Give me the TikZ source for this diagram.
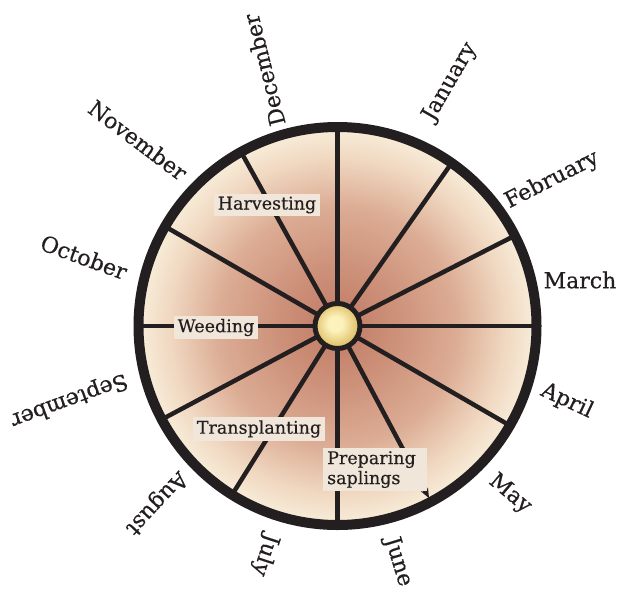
\documentclass[tikz,border=0pt]{standalone}
\usepackage{fontspec}
\setmainfont{DejaVu Serif}[BoldFont={DejaVu Serif}, BoldFeatures={FakeBold=0.4}]
\usetikzlibrary{arrows.meta}
\definecolor{ink}{RGB}{35,31,32}
\definecolor{boxfill}{RGB}{241,230,218}
\definecolor{cin}{RGB}{196,128,106}
\definecolor{ca}{RGB}{205,145,122}
\definecolor{cb}{RGB}{220,172,148}
\definecolor{cc}{RGB}{240,215,192}
\definecolor{cout}{RGB}{248,238,218}
\definecolor{hubin}{RGB}{252,242,188}
\definecolor{hubout}{RGB}{222,190,100}
\pgfdeclareradialshading{discshade}{\pgfpoint{0bp}{0bp}}{color(0bp)=(cin); color(2bp)=(cin); color(7.5bp)=(ca); color(15bp)=(cb); color(21bp)=(cc); color(25bp)=(cout); color(50bp)=(cout)}
\pgfdeclareradialshading{hubshade}{\pgfpoint{-3bp}{3bp}}{color(0bp)=(hubin); color(8bp)=(hubin); color(25bp)=(hubout); color(50bp)=(hubout)}
\tikzset{
  spoke/.style={draw=ink, line width=4.5pt},
  month/.style={text=ink, inner sep=0pt, font=\fontsize{22}{26}\selectfont\bfseries},
  lbl/.style={fill=boxfill, text=ink, inner xsep=4pt, inner ysep=3pt, font=\fontsize{17.5}{20}\selectfont\bfseries}
}
\begin{document}
\begin{tikzpicture}[x=1pt,y=-1pt]
\useasboundingbox (0,0) rectangle (620,592);
\coordinate (c) at (337.5,326);
% disc
\node[circle, minimum size=398pt, inner sep=0pt, outer sep=0pt, shade, shading=discshade] (disc) at (c) {};
% spokes
\foreach \a in {90,55,27,0,-30,-90,-122,-152,180,150,119}
  \draw[spoke] (c) -- (disc.\a);
\draw[spoke, shorten >=4pt, -{Stealth[length=10pt,width=8pt]}] (c) -- (disc.-62);
% ring
\node[circle, minimum size=398pt, inner sep=0pt, outer sep=0pt, draw=ink, line width=10pt] (ring) at (c) {};
% activity labels
\node[lbl] (harv) at (267,205) {Harvesting};
\node[lbl] (weed) at (216,327.5) {Weeding};
\node[lbl] (trans) at (259,429) {Transplanting};
\node[lbl, align=left, text width=96pt, anchor=north west] (prep) at (323,448) {Preparing\\saplings};
% hub
\node[circle, minimum size=45pt, inner sep=0pt, draw=ink, line width=5pt, shade, shading=hubshade] (hub) at (c) {};
% months
\node[month, rotate=60] (jan) at (450,82) {January};
\node[month, rotate=27] (feb) at (552,180) {February};
\node[month, rotate=0] (mar) at (580,280) {March};
\node[month, rotate=-25] (apr) at (567,401) {April};
\node[month, rotate=-40] (may) at (510,494) {May};
\node[month, rotate=-73] (jun) at (398,562) {June};
\node[month, rotate=-108] (jul) at (265,555) {July};
\node[month, rotate=-133] (aug) at (156,503) {August};
\node[month, rotate=-160] (sep) at (69,400) {September};
\node[month, rotate=-20] (oct) at (84,257) {October};
\node[month, rotate=-37] (nov) at (138,140) {November};
\node[month, rotate=104] (dec) at (264,70) {December};
\end{tikzpicture}
\end{document}
